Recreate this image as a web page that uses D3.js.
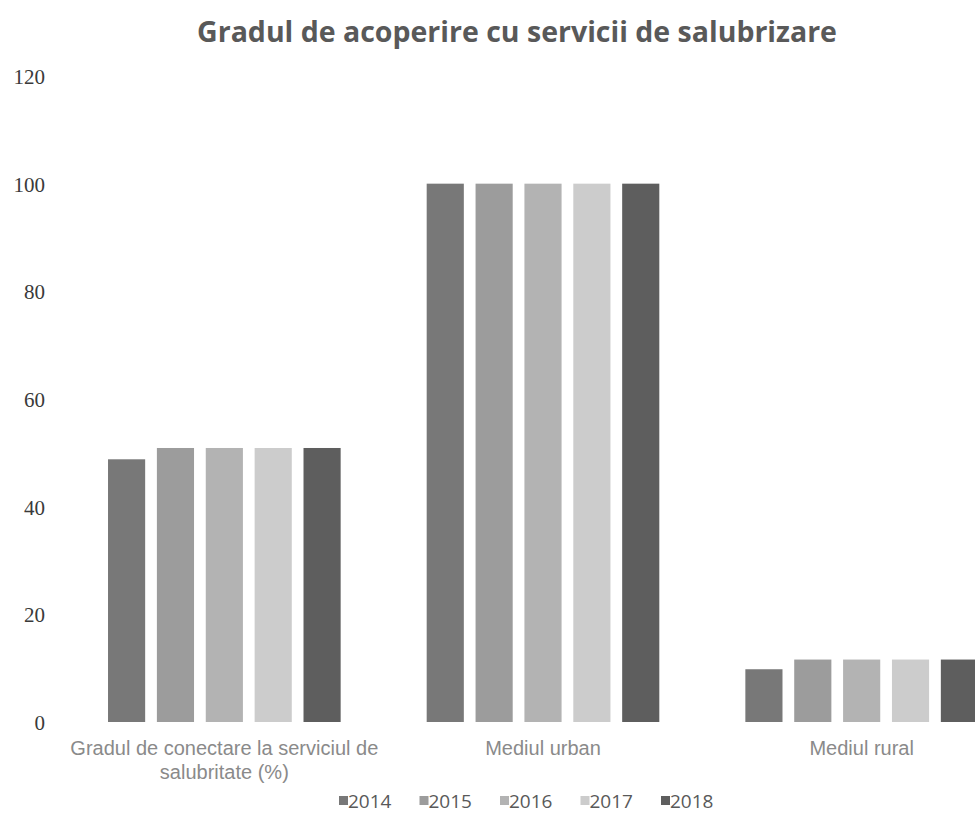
<!DOCTYPE html>
<html>
<head>
<meta charset="utf-8">
<script src="https://cdn.jsdelivr.net/npm/d3@7"></script>
<style>
  body { margin: 0; background: #fff; }
  svg { display: block; }
</style>
</head>
<body>
<svg></svg>
<script>
var categories = ['Gradul de conectare la serviciul de salubritate (%)', 'Mediul urban', 'Mediul rural'];
var years = ['2014', '2015', '2016', '2017', '2018'];
var values2014 = [48.8, 100, 9.8];
var values2015 = [50.9, 100, 11.6];
var values2016 = [50.9, 100, 11.6];
var values2017 = [50.9, 100, 11.6];
var values2018 = [50.9, 100, 11.6];
var yTicks = [0, 20, 40, 60, 80, 100, 120];
var colors = ['#787878', '#9c9c9c', '#b3b3b3', '#cccccc', '#5e5e5e'];

var series = [values2014, values2015, values2016, values2017, values2018];

var width = 975;
var height = 840;

var svg = d3.select('svg')
    .attr('width', width)
    .attr('height', height);

var xScale = d3.scaleBand()
    .domain(categories)
    .range([65, 1021]);

var inner = d3.scaleBand()
    .domain(years)
    .range([xScale.step() * 0.135, xScale.step() * 0.865])
    .paddingInner(0.24);

var yScale = d3.scaleLinear()
    .domain([0, 120])
    .range([722, 76]);

// title
svg.append('text')
    .attr('x', 517)
    .attr('y', 42)
    .attr('text-anchor', 'middle')
    .attr('font-family', 'Open Sans, sans-serif')
    .attr('font-weight', 'bold')
    .attr('font-size', 28.5)
    .attr('fill', '#595959')
    .text('Gradul de acoperire cu servicii de salubrizare');

// y axis labels
var yAxis = d3.axisLeft(yScale)
    .tickValues(yTicks)
    .tickSize(0)
    .tickPadding(0);
var yg = svg.append('g')
    .attr('transform', 'translate(45,0)')
    .call(yAxis);
yg.select('.domain').remove();
yg.selectAll('text')
    .attr('font-family', 'Liberation Serif, serif')
    .attr('font-size', 21)
    .attr('fill', '#3a3a3a')
    .attr('dy', '0.35em');

// bars
var groups = svg.append('g').selectAll('g')
    .data(categories)
    .join('g')
    .attr('transform', d => `translate(${xScale(d)},0)`);

groups.selectAll('rect')
    .data((d, i) => years.map((y, j) => ({ year: y, value: series[j][i], color: colors[j] })))
    .join('rect')
    .attr('x', d => inner(d.year))
    .attr('width', inner.bandwidth())
    .attr('y', d => yScale(d.value))
    .attr('height', d => yScale(0) - yScale(d.value))
    .attr('fill', d => d.color);

// category labels
var catLines = [['Gradul de conectare la serviciul de', 'salubritate (%)'], ['Mediul urban'], ['Mediul rural']];
var labels = svg.append('g').selectAll('text')
    .data(categories)
    .join('text')
    .attr('x', d => xScale(d) + xScale.bandwidth() / 2)
    .attr('y', 755)
    .attr('text-anchor', 'middle')
    .attr('font-family', 'Liberation Sans, sans-serif')
    .attr('font-size', 20)
    .attr('fill', '#8a8a8a');
labels.selectAll('tspan')
    .data((d, i) => catLines[i])
    .join('tspan')
    .attr('x', function () { return this.parentNode.getAttribute('x'); })
    .attr('dy', (d, i) => i === 0 ? 0 : 24)
    .text(d => d);

// legend
var legend = svg.append('g').selectAll('g')
    .data(years)
    .join('g')
    .attr('transform', (d, i) => `translate(${339 + i * 80.5},0)`);
legend.append('rect')
    .attr('x', 0)
    .attr('y', 796)
    .attr('width', 9)
    .attr('height', 9)
    .attr('fill', (d, i) => colors[i]);
legend.append('text')
    .attr('x', 9)
    .attr('y', 808)
    .attr('font-family', 'Open Sans, sans-serif')
    .attr('font-size', 19)
    .attr('fill', '#595959')
    .text(d => d);
</script>
</body>
</html>
